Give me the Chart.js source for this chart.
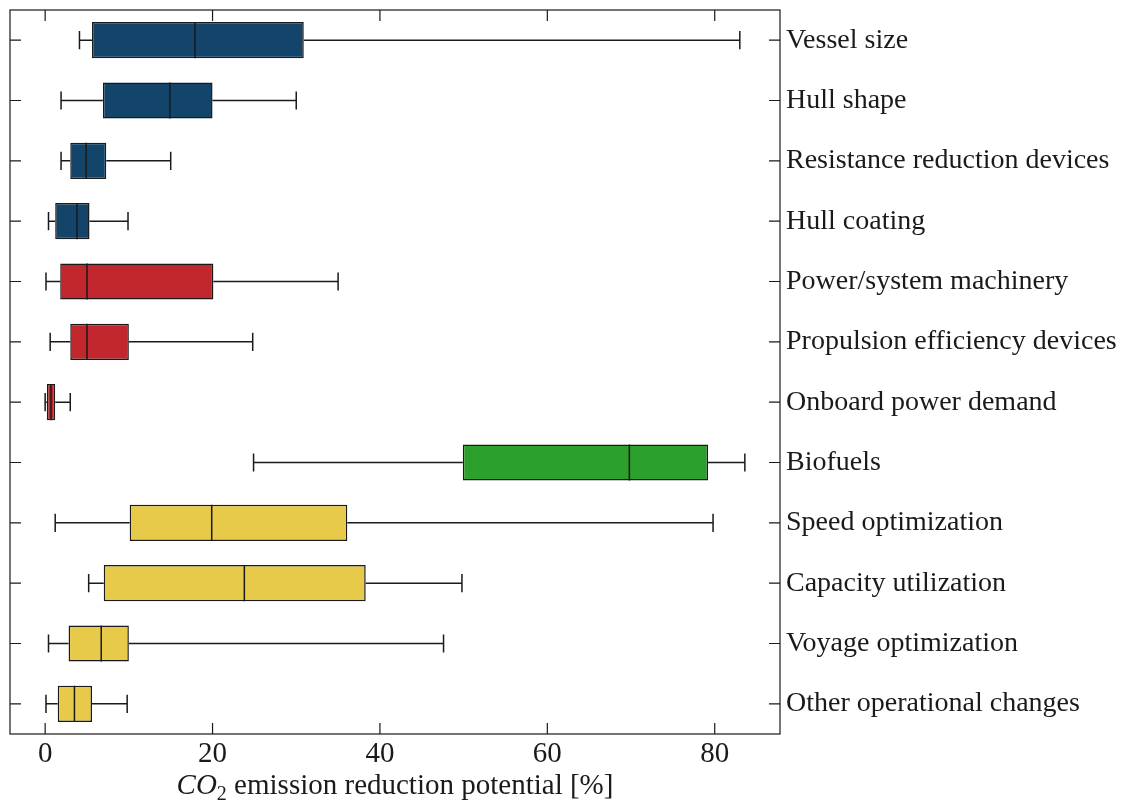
<!DOCTYPE html>
<html>
<head>
<meta charset="utf-8">
<script src="https://cdn.jsdelivr.net/npm/chart.js@4.4.1/dist/chart.umd.min.js"></script>
<style>
  html, body { margin: 0; padding: 0; background: #fff; }
  #wrap { width: 1127px; height: 803px; }
</style>
</head>
<body>
<div id="wrap"><canvas id="chart"></canvas></div>
<script>
// ===== DATA =====
const categories = [
  "Vessel size", "Hull shape", "Resistance reduction devices", "Hull coating",
  "Power/system machinery", "Propulsion efficiency devices", "Onboard power demand",
  "Biofuels", "Speed optimization", "Capacity utilization", "Voyage optimization",
  "Other operational changes"
];
const whiskerLow  = [4.1, 1.9, 1.9, 0.4, 0.1, 0.6, 0.0, 24.9, 1.2, 5.2, 0.4, 0.1];
const q1          = [5.6, 6.9, 3.0, 1.2, 1.8, 3.0, 0.2, 49.9, 10.1, 7.0, 2.8, 1.5];
const medians     = [17.9, 14.9, 4.9, 3.8, 5.0, 5.0, 0.7, 69.8, 19.9, 23.8, 6.7, 3.5];
const q3          = [30.9, 20.0, 7.3, 5.3, 20.1, 10.0, 1.2, 79.2, 36.1, 38.3, 10.0, 5.6];
const whiskerHigh = [83.0, 30.0, 15.0, 9.9, 35.0, 24.8, 3.0, 83.6, 79.8, 49.8, 47.6, 9.8];
const xTicks = [0, 20, 40, 60, 80];

// colour per category group
const NAVY = "#13446a", RED = "#c1272d", GREEN = "#2ca02c", YELLOW = "#e8ca4a";
const boxColors = [NAVY, NAVY, NAVY, NAVY, RED, RED, RED, GREEN, YELLOW, YELLOW, YELLOW, YELLOW];

const FONT = '"Liberation Serif", "DejaVu Serif", serif';
const INK = "#1a1a1a";

// ===== whiskers + medians =====
const boxPlotLines = {
  id: "boxPlotLines",
  afterDatasetsDraw(chart) {
    const ctx = chart.ctx;
    const x = chart.scales.x, y = chart.scales.y;
    const bars = chart.getDatasetMeta(0).data;
    ctx.save();
    ctx.strokeStyle = INK;
    ctx.lineWidth = 1.5;
    categories.forEach((c, i) => {
      const cy = y.getPixelForValue(i);
      const half = bars[i].height / 2;
      const cap = half * 0.5;
      const lo = x.getPixelForValue(whiskerLow[i]);
      const hi = x.getPixelForValue(whiskerHigh[i]);
      const m = x.getPixelForValue(medians[i]);
      ctx.beginPath();
      ctx.moveTo(lo, cy); ctx.lineTo(x.getPixelForValue(q1[i]), cy);
      ctx.moveTo(x.getPixelForValue(q3[i]), cy); ctx.lineTo(hi, cy);
      ctx.moveTo(lo, cy - cap); ctx.lineTo(lo, cy + cap);
      ctx.moveTo(hi, cy - cap); ctx.lineTo(hi, cy + cap);
      ctx.moveTo(m, cy - half); ctx.lineTo(m, cy + half);
      ctx.stroke();
    });
    ctx.restore();
  }
};

// ===== frame, inward ticks, axis title =====
const frameTicks = {
  id: "frameTicks",
  afterDraw(chart) {
    const { ctx, chartArea: a, scales: { x, y } } = chart;
    const len = 11;
    ctx.save();
    ctx.strokeStyle = INK;
    ctx.lineWidth = 1.2;
    ctx.strokeRect(a.left, a.top, a.right - a.left, a.bottom - a.top);
    ctx.beginPath();
    xTicks.forEach(v => {
      const px = x.getPixelForValue(v);
      ctx.moveTo(px, a.bottom); ctx.lineTo(px, a.bottom - len);
      ctx.moveTo(px, a.top); ctx.lineTo(px, a.top + len);
    });
    categories.forEach((c, i) => {
      const py = y.getPixelForValue(i);
      ctx.moveTo(a.left, py); ctx.lineTo(a.left + len, py);
      ctx.moveTo(a.right, py); ctx.lineTo(a.right - len, py);
    });
    ctx.stroke();

    // "CO2 emission reduction potential [%]" with italic CO and subscript 2
    const big = 29, small = 20;
    const partA = "CO", partB = "2", partC = " emission reduction potential [%]";
    ctx.fillStyle = INK;
    ctx.textBaseline = "alphabetic";
    ctx.font = `italic ${big}px ${FONT}`;
    const wA = ctx.measureText(partA).width;
    ctx.font = `${small}px ${FONT}`;
    const wB = ctx.measureText(partB).width;
    ctx.font = `${big}px ${FONT}`;
    const wC = ctx.measureText(partC).width;
    let tx = (a.left + a.right) / 2 - (wA + wB + wC) / 2;
    const base = 794;
    ctx.font = `italic ${big}px ${FONT}`;
    ctx.fillText(partA, tx, base); tx += wA;
    ctx.font = `${small}px ${FONT}`;
    ctx.fillText(partB, tx, base + 6); tx += wB;
    ctx.font = `${big}px ${FONT}`;
    ctx.fillText(partC, tx, base);
    ctx.restore();
  }
};

// ===== CHART =====
new Chart(document.getElementById("chart"), {
  type: "bar",
  data: {
    labels: categories,
    datasets: [{
      data: categories.map((c, i) => [q1[i], q3[i]]),
      backgroundColor: boxColors,
      borderColor: INK,
      borderWidth: 1.5,
      borderSkipped: false,
      barPercentage: 0.6,
      categoryPercentage: 1
    }]
  },
  options: {
    indexAxis: "y",
    responsive: true,
    maintainAspectRatio: false,
    animation: false,
    layout: { padding: { left: 10, top: 10, right: 0, bottom: 0 } },
    plugins: { legend: { display: false }, tooltip: { enabled: false } },
    scales: {
      x: {
        type: "linear",
        position: "bottom",
        min: -4.2,
        max: 87.8,
        grid: { display: false, drawTicks: false },
        border: { display: false },
        ticks: { font: { family: FONT, size: 29 }, color: INK, padding: 3 },
        afterBuildTicks: scale => { scale.ticks = xTicks.map(v => ({ value: v })); },
        afterFit: scale => { scale.height = 69; scale.paddingLeft = 0; scale.paddingRight = 0; }
      },
      y: {
        type: "category",
        position: "right",
        grid: { display: false, drawTicks: false },
        border: { display: false },
        ticks: { font: { family: FONT, size: 28 }, color: INK, padding: 6 },
        afterFit: scale => { scale.width = 347; scale.paddingTop = 0; scale.paddingBottom = 0; }
      }
    }
  },
  plugins: [boxPlotLines, frameTicks]
});
</script>
</body>
</html>
